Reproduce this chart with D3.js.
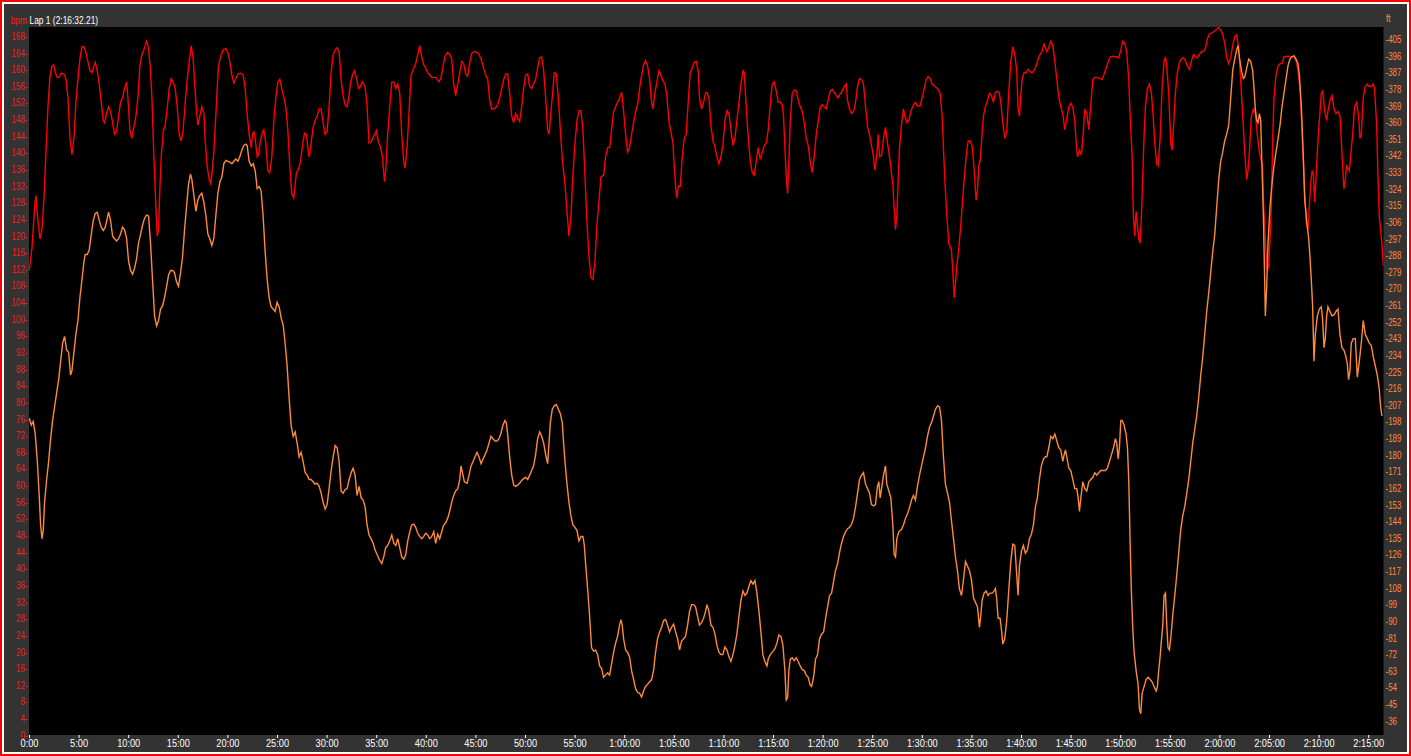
<!DOCTYPE html>
<html>
<head>
<meta charset="utf-8">
<script src="https://cdn.jsdelivr.net/npm/d3@7"></script>
<style>
  html, body { margin: 0; padding: 0; background: #ffffff; }
  svg { display: block; }
  text { font-family: "Liberation Sans", Arial, sans-serif; }
</style>
</head>
<body>
<div id="chart"></div>
<script>
// ---------------- DATA ----------------
const lapTitle = "Lap 1 (2:16:32.21)";
const lapMinutes = 136.54;

// time ticks (minutes) and their labels
const timeTicks = [0,5,10,15,20,25,30,35,40,45,50,55,60,65,70,75,80,85,90,95,100,105,110,115,120,125,130,135];
const timeLabels = ["0:00","5:00","10:00","15:00","20:00","25:00","30:00","35:00","40:00","45:00","50:00","55:00",
  "1:00:00","1:05:00","1:10:00","1:15:00","1:20:00","1:25:00","1:30:00","1:35:00","1:40:00","1:45:00","1:50:00","1:55:00",
  "2:00:00","2:05:00","2:10:00","2:15:00"];

// heart-rate ticks (bpm)
const bpmTicks = [0,4,8,12,16,20,24,28,32,36,40,44,48,52,56,60,64,68,72,76,80,84,88,92,96,100,104,108,112,116,120,124,128,132,136,140,144,148,152,156,160,164,168];
// elevation ticks (ft)
const ftTicks = [36,45,54,63,72,81,90,99,108,117,126,135,144,153,162,171,180,189,198,207,216,225,234,243,252,261,270,279,288,297,306,315,324,333,342,351,360,369,378,387,396,405];

// heart rate: [minutes, bpm]
const heartRate = [
[0.03,111.7],[0.30,117.1],[0.57,126.9],[0.70,129.7],[0.90,123.7],[1.10,119.3],[1.31,121.5],[1.51,129.1],[1.71,140.1],[1.91,151.0],[2.11,158.1],[2.31,160.8],[2.48,161.1],[2.65,159.2],[2.85,158.1],[3.05,158.1],[3.25,159.1],[3.52,158.9],[3.72,157.8],[3.93,153.2],[4.13,143.4],[4.33,139.5],[4.53,143.4],[4.73,152.1],[4.93,157.6],[5.13,162.5],[5.34,165.5],[5.54,165.4],[5.74,164.1],[5.94,161.9],[6.14,159.7],[6.34,159.2],[6.54,160.8],[6.68,161.7],[6.88,159.7],[7.08,156.5],[7.28,152.1],[7.49,147.7],[7.62,147.2],[7.82,149.4],[8.02,151.0],[8.22,149.9],[8.43,147.2],[8.63,144.4],[8.83,145.0],[9.03,148.8],[9.23,152.1],[9.43,153.2],[9.63,155.4],[9.84,157.0],[9.97,153.2],[10.17,145.5],[10.37,143.4],[10.57,146.1],[10.78,148.8],[10.98,153.2],[11.18,160.8],[11.38,163.6],[11.58,164.7],[11.85,166.8],[12.05,165.2],[12.25,159.7],[12.39,153.2],[12.59,139.0],[12.79,126.9],[12.93,119.9],[13.06,121.5],[13.19,131.3],[13.33,139.0],[13.53,145.0],[13.73,146.6],[13.93,150.5],[14.13,155.4],[14.34,157.8],[14.54,157.0],[14.74,155.4],[14.94,151.0],[15.14,144.4],[15.34,142.8],[15.54,145.5],[15.75,152.1],[15.95,157.6],[16.15,161.9],[16.35,165.7],[16.55,162.5],[16.75,154.8],[16.89,149.9],[17.02,146.6],[17.22,148.8],[17.42,151.0],[17.63,149.4],[17.76,142.8],[17.96,136.8],[18.16,133.5],[18.30,132.6],[18.43,134.6],[18.63,140.1],[18.83,148.8],[18.97,155.4],[19.10,160.8],[19.30,163.0],[19.57,164.7],[19.84,165.0],[20.04,164.1],[20.24,161.9],[20.45,158.6],[20.65,156.7],[20.85,157.8],[21.05,158.9],[21.32,159.1],[21.59,158.6],[21.79,155.4],[21.99,149.4],[22.19,144.4],[22.40,141.2],[22.53,144.4],[22.67,145.0],[22.80,143.4],[23.00,139.0],[23.13,139.5],[23.33,142.8],[23.54,145.0],[23.67,145.5],[23.87,142.3],[24.07,135.7],[24.27,135.2],[24.48,139.0],[24.68,147.7],[24.88,153.2],[25.08,157.0],[25.28,157.6],[25.48,155.4],[25.69,153.2],[25.89,151.0],[26.09,145.5],[26.29,136.8],[26.49,130.2],[26.69,129.1],[26.83,132.4],[26.96,135.2],[27.16,135.9],[27.37,137.9],[27.57,141.7],[27.77,144.7],[27.97,144.4],[28.10,141.2],[28.24,139.0],[28.44,142.3],[28.64,146.1],[28.84,147.7],[29.04,148.8],[29.24,150.5],[29.45,150.5],[29.65,147.2],[29.85,144.4],[30.05,145.0],[30.25,151.0],[30.45,159.2],[30.66,163.6],[30.86,164.7],[31.06,165.2],[31.26,164.1],[31.46,157.6],[31.66,153.7],[31.87,151.5],[32.07,151.0],[32.20,152.6],[32.40,156.5],[32.60,158.6],[32.80,159.7],[33.01,158.1],[33.21,155.4],[33.41,155.9],[33.61,157.0],[33.88,155.9],[34.08,151.0],
[34.28,142.3],[34.48,142.5],[34.75,143.9],[35.02,145.3],[35.22,142.5],[35.42,141.4],[35.63,139.0],[35.83,133.0],[35.96,135.7],[36.16,144.4],[36.36,151.0],[36.57,157.0],[36.77,157.0],[36.97,155.4],[37.17,156.5],[37.37,154.3],[37.57,144.4],[37.78,137.9],[37.91,136.3],[38.11,141.2],[38.31,149.9],[38.51,158.6],[38.78,160.3],[38.98,161.4],[39.19,163.6],[39.39,165.7],[39.59,163.0],[39.79,161.1],[39.99,160.3],[40.19,159.2],[40.60,158.1],[41.00,158.1],[41.33,157.0],[41.54,158.1],[41.74,160.8],[41.94,163.2],[42.21,164.1],[42.41,163.6],[42.61,162.5],[42.81,156.5],[43.01,153.7],[43.22,156.5],[43.42,159.2],[43.62,161.9],[43.82,161.4],[44.02,158.9],[44.22,158.4],[44.42,161.4],[44.63,163.9],[44.96,164.3],[45.30,163.9],[45.57,162.5],[45.83,160.3],[46.04,158.6],[46.24,157.6],[46.44,152.6],[46.64,150.5],[46.84,150.5],[47.04,150.8],[47.24,151.5],[47.45,153.2],[47.65,155.4],[47.85,157.6],[48.05,158.9],[48.25,158.9],[48.45,154.3],[48.66,148.8],[48.86,147.2],[49.06,149.4],[49.26,148.3],[49.46,147.5],[49.66,151.0],[49.86,155.4],[50.07,158.6],[50.27,158.9],[50.47,155.9],[50.67,155.4],[50.87,156.5],[51.07,157.6],[51.27,160.3],[51.48,162.8],[51.68,163.0],[51.88,159.7],[52.08,153.2],[52.28,145.5],[52.42,144.4],[52.62,149.9],[52.82,155.4],[52.95,159.2],[53.15,158.9],[53.36,153.2],[53.56,145.5],[53.76,138.4],[54.03,132.4],[54.23,125.9],[54.43,119.9],[54.63,124.8],[54.83,134.6],[55.04,142.3],[55.24,147.7],[55.44,150.1],[55.64,150.1],[55.84,145.5],[56.04,134.6],[56.24,123.7],[56.45,114.9],[56.65,110.0],[56.85,109.5],[57.05,113.8],[57.25,122.6],[57.45,128.1],[57.65,134.1],[57.92,134.6],[58.12,139.0],[58.33,141.2],[58.53,141.2],[58.73,145.5],[58.93,149.9],[59.13,151.0],[59.33,152.1],[59.53,153.0],[59.74,154.5],[59.94,149.9],[60.14,144.4],[60.34,140.1],[60.54,141.2],[60.74,144.4],[60.95,147.2],[61.15,149.9],[61.35,151.5],[61.55,155.4],[61.75,158.6],[61.95,161.1],[62.15,162.1],[62.36,160.8],[62.56,157.6],[62.76,152.1],[62.89,150.5],[63.09,154.3],[63.30,157.0],[63.50,159.7],[63.70,158.6],[63.90,157.3],[64.10,156.5],[64.30,153.7],[64.50,147.7],[64.71,145.0],[64.91,142.3],[65.04,136.8],[65.18,131.9],[65.31,129.1],[65.45,131.9],[65.65,131.9],[65.85,139.0],[66.05,143.4],[66.25,144.4],[66.45,152.1],[66.65,159.2],[66.86,160.3],[67.06,161.7],[67.26,161.9],[67.46,159.7],[67.59,153.2],[67.80,150.5],[68.00,152.1],[68.20,154.3],
[68.34,154.5],[68.54,153.2],[68.74,146.6],[68.95,142.8],[69.15,141.4],[69.35,139.0],[69.55,137.3],[69.75,139.0],[69.95,141.7],[70.15,147.7],[70.36,150.1],[70.56,149.4],[70.76,145.5],[70.96,141.7],[71.16,143.4],[71.36,147.7],[71.57,152.1],[71.77,156.5],[71.97,159.7],[72.10,159.2],[72.30,151.0],[72.51,143.4],[72.71,137.9],[72.91,135.2],[73.11,134.6],[73.31,137.9],[73.51,141.2],[73.71,138.4],[73.92,140.1],[74.12,141.7],[74.32,142.3],[74.52,145.5],[74.72,151.5],[74.92,156.5],[75.12,157.0],[75.33,154.8],[75.53,152.1],[75.73,152.1],[75.93,151.5],[76.06,148.8],[76.20,141.2],[76.33,134.6],[76.47,130.2],[76.60,137.9],[76.74,147.7],[76.94,154.3],[77.14,155.0],[77.34,154.8],[77.54,152.6],[77.74,151.0],[77.95,149.9],[78.15,147.2],[78.35,143.4],[78.55,141.7],[78.75,137.9],[78.95,135.2],[79.15,139.0],[79.36,144.4],[79.56,147.7],[79.76,151.0],[79.96,151.5],[80.16,151.0],[80.36,150.5],[80.56,152.6],[80.77,154.8],[80.97,155.2],[81.17,154.5],[81.37,153.7],[81.57,153.2],[81.77,154.1],[81.97,154.8],[82.18,155.9],[82.38,156.5],[82.51,152.6],[82.71,150.5],[82.92,149.4],[83.12,149.9],[83.32,152.1],[83.52,155.9],[83.72,157.8],[83.92,157.6],[84.12,156.5],[84.33,151.0],[84.53,146.1],[84.73,144.4],[84.93,141.7],[85.13,139.0],[85.27,135.7],[85.47,139.5],[85.60,144.4],[85.74,139.0],[85.94,139.5],[86.14,143.4],[86.34,146.1],[86.47,143.4],[86.68,140.1],[86.88,136.3],[87.08,132.4],[87.21,126.9],[87.35,121.5],[87.48,124.8],[87.62,133.5],[87.75,141.2],[87.95,146.6],[88.15,150.5],[88.29,148.8],[88.49,147.2],[88.69,147.7],[88.89,149.9],[89.16,151.5],[89.36,152.1],[89.56,151.2],[89.83,151.2],[90.03,153.2],[90.24,155.4],[90.44,157.6],[90.64,158.3],[90.84,157.8],[91.04,156.5],[91.31,155.9],[91.58,155.4],[91.85,154.3],[92.05,148.8],[92.18,141.2],[92.32,133.5],[92.52,124.8],[92.72,118.2],[92.99,116.6],[93.12,111.7],[93.26,105.1],[93.39,108.4],[93.53,112.8],[93.73,117.1],[93.93,122.6],[94.06,126.9],[94.27,133.5],[94.47,139.0],[94.67,142.8],[94.87,142.8],[95.07,141.7],[95.21,137.9],[95.34,133.5],[95.47,128.6],[95.61,130.8],[95.74,136.8],[95.88,137.9],[96.01,142.3],[96.21,148.8],[96.41,151.0],[96.62,152.6],[96.82,154.3],[97.02,153.7],[97.22,152.1],[97.42,154.5],[97.62,154.8],[97.82,154.3],[97.96,152.1],[98.16,147.2],[98.36,143.4],[98.56,145.0],[98.76,154.3],[98.97,161.9],[99.17,165.4],[99.37,163.6],[99.57,159.7],[99.70,151.0],[99.84,148.8],[99.97,153.2],[100.11,157.6],[100.31,159.2],[100.51,159.2],[100.71,160.0],[100.91,159.5],[101.11,159.2],[101.32,159.7],[101.52,160.8],[101.72,162.5],[101.92,163.6],[102.12,164.3],[102.32,166.1],
[102.60,164.3],[102.80,165.2],[103.00,166.8],[103.21,165.7],[103.41,161.9],[103.61,157.6],[103.81,153.2],[104.01,151.0],[104.21,149.4],[104.41,145.5],[104.62,148.3],[104.82,151.0],[105.02,151.9],[105.22,150.8],[105.42,147.7],[105.56,142.3],[105.69,139.0],[105.89,140.6],[106.09,139.5],[106.30,145.5],[106.43,150.5],[106.63,149.4],[106.83,145.5],[107.03,151.5],[107.24,157.6],[107.44,158.1],[107.71,158.1],[107.97,157.8],[108.18,157.6],[108.38,158.9],[108.58,160.3],[108.78,161.7],[108.98,163.0],[109.25,163.2],[109.59,163.0],[109.85,162.8],[110.06,164.7],[110.26,166.8],[110.46,166.3],[110.66,164.1],[110.86,157.6],[111.00,148.8],[111.20,139.0],[111.33,124.8],[111.47,119.9],[111.60,125.9],[111.74,122.6],[111.87,119.3],[112.00,118.2],[112.14,124.8],[112.27,134.6],[112.41,144.4],[112.54,151.0],[112.74,155.4],[112.94,156.5],[113.15,154.3],[113.35,147.7],[113.48,142.3],[113.68,137.3],[113.82,136.8],[114.02,143.4],[114.22,155.4],[114.42,161.9],[114.56,163.0],[114.69,160.8],[114.89,154.3],[115.09,142.3],[115.23,140.6],[115.36,145.5],[115.56,154.3],[115.76,159.2],[115.97,161.7],[116.17,162.5],[116.37,162.8],[116.57,162.1],[116.77,160.8],[116.97,160.0],[117.17,161.9],[117.38,163.6],[117.58,163.0],[117.78,162.8],[117.98,163.6],[118.18,164.3],[118.38,164.3],[118.59,165.0],[118.79,167.4],[118.99,168.5],[119.19,168.7],[119.39,169.0],[119.59,169.4],[119.79,169.8],[119.93,170.1],[120.13,169.4],[120.33,168.5],[120.53,166.3],[120.73,163.0],[120.94,161.4],[121.14,163.0],[121.34,165.7],[121.54,167.9],[121.74,168.3],[121.94,165.2],[122.14,157.6],[122.35,148.8],[122.55,140.1],[122.75,133.5],[122.88,135.7],[123.02,140.1],[123.22,148.8],[123.42,150.5],[123.62,149.4],[123.82,144.4],[124.03,140.1],[124.23,137.9],[124.36,136.8],[124.43,129.1],[124.56,122.6],[124.70,116.0],[124.83,111.7],[124.97,112.8],[125.10,119.3],[125.23,127.0],[125.37,143.4],[125.50,153.2],[125.70,158.6],[125.91,160.8],[126.11,161.4],[126.31,161.4],[126.51,163.0],[126.91,163.2],[127.25,163.0],[127.52,163.2],[127.72,162.1],[127.92,159.7],[128.12,155.4],[128.26,148.8],[128.39,141.2],[128.52,134.6],[128.66,127.0],[128.79,122.6],[128.93,121.5],[129.06,127.0],[129.20,132.4],[129.33,135.7],[129.47,134.6],[129.60,128.1],[129.73,133.5],[129.87,140.1],[130.00,145.5],[130.14,149.9],[130.27,154.3],[130.41,154.8],[130.61,149.9],[130.81,147.7],[130.94,149.9],[131.14,152.6],[131.35,153.7],[131.55,150.5],[131.75,149.4],[131.95,149.9],[132.15,148.8],[132.35,140.1],[132.55,131.3],[132.69,133.5],[132.82,136.8],[132.96,136.3],[133.09,135.7],[133.23,139.0],[133.43,144.4],[133.63,151.0],[133.83,152.1],[134.03,148.8],[134.17,143.4],[134.30,144.4],[134.50,153.2],[134.70,155.9],[134.91,156.5],[135.11,155.9],[135.31,155.9],[135.51,156.5],[135.64,155.4],[135.85,146.6],[135.98,134.6],[136.11,124.8],[136.25,121.5],[136.38,118.2],[136.52,112.8]
];

// elevation: [minutes, ft]
const elevation = [
[0.03,199.9],[0.23,196.2],[0.43,198.2],[0.63,191.3],[0.84,176.5],[1.04,156.8],[1.17,142.1],[1.31,134.7],[1.44,139.6],[1.57,154.4],[1.78,166.7],[1.98,176.5],[2.18,188.8],[2.38,198.7],[2.58,206.1],[2.78,213.4],[2.99,220.8],[3.19,230.7],[3.39,240.5],[3.59,244.2],[3.79,236.8],[3.99,235.6],[4.19,223.3],[4.33,225.7],[4.53,235.6],[4.73,245.4],[4.93,252.8],[5.13,265.1],[5.34,275.0],[5.54,284.8],[5.67,288.5],[5.87,288.5],[6.07,291.0],[6.28,299.6],[6.48,307.0],[6.68,310.7],[6.88,311.4],[7.08,307.0],[7.28,303.3],[7.49,301.6],[7.69,303.3],[7.89,308.2],[8.02,311.4],[8.22,307.0],[8.43,298.4],[8.63,297.1],[8.83,295.9],[9.03,297.1],[9.23,299.6],[9.43,303.3],[9.63,302.0],[9.84,297.1],[10.04,284.8],[10.24,279.9],[10.44,277.9],[10.64,281.1],[10.84,286.0],[11.04,294.7],[11.25,299.6],[11.45,304.5],[11.65,308.2],[11.85,309.9],[12.05,309.4],[12.25,294.7],[12.45,275.0],[12.66,255.3],[12.86,249.9],[13.06,252.8],[13.26,259.0],[13.46,260.7],[13.66,265.1],[13.87,271.3],[14.07,277.4],[14.27,279.9],[14.47,279.9],[14.67,278.7],[14.87,273.7],[15.07,271.3],[15.28,278.7],[15.48,287.3],[15.68,302.0],[15.88,314.4],[16.08,326.7],[16.28,332.1],[16.42,329.1],[16.62,320.5],[16.82,311.9],[17.02,318.0],[17.22,320.5],[17.42,321.7],[17.63,316.8],[17.83,309.4],[18.03,299.6],[18.23,297.1],[18.43,293.4],[18.63,297.1],[18.83,309.4],[19.04,321.7],[19.24,327.9],[19.44,330.3],[19.64,337.7],[19.84,339.5],[20.04,339.0],[20.24,338.5],[20.45,337.7],[20.65,339.0],[20.85,340.2],[21.05,339.0],[21.25,341.4],[21.46,345.1],[21.66,347.6],[21.86,348.3],[21.99,347.6],[22.19,339.0],[22.40,336.5],[22.60,337.7],[22.80,334.0],[23.00,324.2],[23.20,325.4],[23.40,323.0],[23.60,309.4],[23.81,289.7],[24.01,275.0],[24.21,265.1],[24.41,260.2],[24.61,259.0],[24.81,257.7],[25.01,262.7],[25.22,260.2],[25.42,254.1],[25.62,250.4],[25.82,240.5],[26.02,228.2],[26.22,211.0],[26.42,196.2],[26.63,190.1],[26.83,192.5],[27.03,186.4],[27.23,179.0],[27.43,181.5],[27.63,176.5],[27.84,170.4],[28.04,169.1],[28.24,166.7],[28.44,166.7],[28.64,165.5],[28.84,164.2],[29.04,164.7],[29.25,163.0],[29.45,159.3],[29.65,154.4],[29.85,150.7],[30.05,153.1],[30.25,161.8],[30.46,171.6],[30.66,179.0],[30.86,185.1],[31.06,183.9],[31.26,176.5],[31.46,160.5],[31.66,159.3],[31.86,161.3],[32.07,161.8],[32.27,166.7],[32.47,170.4],[32.67,172.8],[32.87,169.1],[33.07,158.1],[33.28,163.0],[33.48,156.8],[33.68,155.6],[33.88,151.9],[34.08,142.1],
[34.28,136.7],[34.48,134.7],[34.69,132.2],[34.89,128.5],[35.09,126.1],[35.29,123.6],[35.56,121.2],[35.76,124.8],[35.96,129.8],[36.16,131.0],[36.36,133.5],[36.57,136.7],[36.77,132.2],[36.97,131.0],[37.17,134.7],[37.37,129.8],[37.57,124.8],[37.78,123.6],[37.98,126.1],[38.18,133.5],[38.38,138.4],[38.58,142.1],[38.78,142.6],[38.98,140.8],[39.19,137.6],[39.39,135.9],[39.59,134.7],[39.79,135.9],[39.99,137.6],[40.19,136.7],[40.39,134.7],[40.60,135.9],[40.80,138.4],[41.00,132.2],[41.20,137.1],[41.40,134.7],[41.60,138.4],[41.80,142.1],[42.01,143.3],[42.21,145.8],[42.41,149.5],[42.61,154.4],[42.81,158.1],[43.01,160.5],[43.22,161.8],[43.42,166.7],[43.55,174.1],[43.69,170.4],[43.89,165.5],[44.16,164.7],[44.36,169.1],[44.56,174.1],[44.76,176.5],[44.96,179.0],[45.16,181.4],[45.36,179.0],[45.57,175.3],[45.77,177.8],[45.97,180.2],[46.17,182.7],[46.37,186.4],[46.57,190.1],[46.77,188.8],[46.98,187.6],[47.18,187.6],[47.38,188.8],[47.58,191.8],[47.78,196.2],[47.98,198.7],[48.12,197.4],[48.25,191.3],[48.45,179.0],[48.66,169.1],[48.86,163.7],[49.06,163.0],[49.26,163.7],[49.46,164.7],[49.66,166.2],[49.86,167.2],[50.07,167.9],[50.27,166.7],[50.47,169.1],[50.67,171.6],[50.87,174.1],[51.07,180.2],[51.27,188.8],[51.48,192.5],[51.68,190.1],[51.88,186.4],[52.08,180.2],[52.28,175.3],[52.42,186.4],[52.55,197.4],[52.75,204.8],[52.95,206.6],[53.15,207.3],[53.36,204.8],[53.56,202.4],[53.76,197.4],[53.89,186.4],[54.03,176.5],[54.23,164.2],[54.43,154.4],[54.63,147.0],[54.83,142.1],[55.04,140.8],[55.24,139.1],[55.44,133.5],[55.64,135.9],[55.84,135.9],[55.98,131.0],[56.11,121.2],[56.31,107.6],[56.51,92.8],[56.71,75.6],[56.92,73.7],[57.12,74.4],[57.32,71.9],[57.52,65.8],[57.72,64.5],[57.92,59.6],[58.12,60.8],[58.33,62.1],[58.53,60.8],[58.73,67.0],[58.93,73.1],[59.13,78.1],[59.33,81.8],[59.53,87.9],[59.67,90.9],[59.80,87.9],[59.94,80.5],[60.14,74.4],[60.34,73.1],[60.54,70.7],[60.74,63.3],[60.95,58.4],[61.15,53.5],[61.35,51.5],[61.55,51.0],[61.75,49.0],[61.95,52.2],[62.15,54.7],[62.36,55.9],[62.56,57.2],[62.76,58.4],[62.96,63.3],[63.16,73.1],[63.36,80.5],[63.57,84.2],[63.77,86.7],[63.97,90.4],[64.17,90.9],[64.37,87.9],[64.57,84.2],[64.77,86.7],[64.98,88.4],[65.18,84.2],[65.38,80.5],[65.58,74.4],[65.78,79.3],[65.98,80.5],[66.18,81.8],[66.39,87.9],[66.59,95.3],[66.79,99.0],[66.99,99.0],[67.19,97.8],[67.39,92.8],[67.59,87.9],[67.80,89.2],[68.00,91.6],[68.20,95.3],
[68.34,99.0],[68.54,95.3],[68.74,87.9],[68.95,86.7],[69.15,83.0],[69.35,76.9],[69.55,73.2],[69.75,71.9],[69.95,71.9],[70.15,76.1],[70.36,74.4],[70.56,70.7],[70.76,68.2],[70.96,71.9],[71.16,76.9],[71.36,83.0],[71.57,92.8],[71.77,101.5],[71.97,106.4],[72.17,103.9],[72.37,105.2],[72.57,108.8],[72.77,112.0],[72.98,110.1],[73.18,112.0],[73.38,105.2],[73.58,95.3],[73.78,84.2],[73.98,71.9],[74.18,68.2],[74.39,65.8],[74.52,69.5],[74.72,71.9],[74.99,73.7],[75.19,75.1],[75.39,78.1],[75.59,82.5],[75.80,81.8],[76.00,76.9],[76.20,63.3],[76.33,47.3],[76.47,48.5],[76.60,63.3],[76.74,69.5],[76.94,70.2],[77.14,68.7],[77.34,70.2],[77.54,68.2],[77.74,65.8],[77.95,63.8],[78.15,63.3],[78.35,60.8],[78.55,59.6],[78.75,55.4],[78.89,54.7],[79.09,59.6],[79.29,69.5],[79.49,71.9],[79.69,80.5],[79.89,83.0],[80.10,84.2],[80.30,91.6],[80.50,97.8],[80.70,103.9],[80.90,105.2],[81.10,111.3],[81.30,117.5],[81.51,121.2],[81.71,127.3],[81.91,132.2],[82.11,135.9],[82.31,138.4],[82.51,140.1],[82.71,140.8],[82.92,142.6],[83.12,145.8],[83.32,151.9],[83.52,159.3],[83.72,166.7],[83.92,169.1],[84.12,170.4],[84.33,164.2],[84.53,161.8],[84.73,159.3],[84.93,153.1],[85.13,152.4],[85.33,153.1],[85.53,163.0],[85.67,165.5],[85.80,156.8],[85.94,161.8],[86.14,169.1],[86.34,174.1],[86.47,164.2],[86.68,160.5],[86.88,156.8],[87.08,142.1],[87.21,126.1],[87.35,124.8],[87.48,134.7],[87.68,138.4],[87.95,139.6],[88.15,142.1],[88.36,145.8],[88.56,148.2],[88.76,151.4],[88.96,155.6],[89.16,158.1],[89.36,155.6],[89.56,163.0],[89.77,169.1],[89.97,174.1],[90.17,179.0],[90.37,183.9],[90.57,190.1],[90.77,195.0],[90.97,197.4],[91.18,201.1],[91.38,204.8],[91.58,206.6],[91.78,206.1],[91.98,198.7],[92.18,179.0],[92.38,164.2],[92.59,159.3],[92.79,154.4],[92.99,144.5],[93.19,134.7],[93.39,124.8],[93.59,117.5],[93.79,107.6],[94.00,103.9],[94.20,112.5],[94.40,122.4],[94.60,119.9],[94.80,117.5],[95.00,112.5],[95.21,102.7],[95.41,100.2],[95.61,97.8],[95.81,86.7],[95.94,92.8],[96.08,101.5],[96.28,105.2],[96.48,106.4],[96.68,103.9],[96.88,105.2],[97.09,105.2],[97.29,106.4],[97.42,107.6],[97.56,101.5],[97.69,91.6],[97.89,91.6],[98.03,85.5],[98.16,77.6],[98.36,80.5],[98.56,90.4],[98.76,106.4],[98.97,122.4],[99.17,131.7],[99.37,131.0],[99.57,115.0],[99.70,103.9],[99.84,119.9],[100.04,127.8],[100.24,131.0],[100.44,126.8],[100.64,128.5],[100.85,134.7],[101.05,137.1],[101.25,142.1],[101.45,151.9],[101.65,156.8],[101.85,166.7],[102.05,174.1],[102.26,177.8],[102.46,179.0],
[102.60,179.0],[102.80,183.9],[103.00,190.1],[103.21,188.8],[103.41,191.3],[103.61,187.6],[103.81,183.9],[104.01,182.7],[104.21,176.5],[104.35,180.2],[104.48,182.7],[104.62,179.0],[104.82,172.8],[105.02,171.6],[105.22,166.7],[105.42,161.8],[105.62,161.8],[105.76,156.8],[105.89,149.5],[106.03,156.8],[106.23,165.5],[106.43,161.8],[106.63,160.5],[106.83,165.5],[107.03,166.7],[107.24,167.9],[107.44,170.4],[107.64,169.1],[107.84,170.4],[108.04,171.6],[108.31,171.6],[108.51,171.6],[108.71,172.8],[108.91,176.5],[109.12,180.2],[109.32,183.9],[109.52,188.8],[109.65,186.4],[109.79,177.8],[109.92,183.9],[110.06,198.7],[110.19,198.7],[110.39,196.2],[110.59,191.3],[110.73,183.9],[110.86,166.7],[111.00,132.2],[111.13,105.2],[111.27,85.5],[111.40,73.2],[111.60,63.3],[111.80,55.9],[111.94,42.4],[112.07,39.9],[112.21,51.0],[112.41,54.7],[112.61,58.4],[112.81,59.6],[113.01,58.4],[113.21,57.2],[113.41,54.7],[113.62,52.2],[113.75,54.7],[113.88,63.3],[114.02,70.7],[114.15,79.3],[114.29,87.9],[114.42,103.9],[114.56,105.2],[114.69,87.9],[114.82,75.6],[114.96,74.4],[115.09,80.5],[115.29,92.8],[115.50,103.9],[115.70,115.0],[115.90,127.3],[116.10,139.6],[116.30,147.0],[116.50,151.9],[116.71,159.3],[116.91,166.7],[117.11,176.5],[117.31,186.4],[117.51,193.8],[117.71,201.1],[117.91,211.0],[118.12,223.3],[118.32,233.1],[118.52,245.4],[118.72,257.7],[118.92,267.6],[119.12,278.7],[119.32,289.7],[119.53,299.6],[119.73,314.4],[119.93,329.1],[120.13,339.0],[120.33,343.9],[120.53,350.0],[120.73,353.7],[120.94,358.7],[121.14,373.4],[121.34,388.2],[121.54,394.3],[121.74,399.3],[121.88,401.7],[122.01,395.6],[122.21,388.2],[122.41,383.8],[122.55,384.5],[122.75,389.4],[122.95,394.3],[123.15,393.1],[123.35,388.2],[123.49,378.3],[123.62,367.3],[123.76,361.1],[123.89,359.9],[124.03,364.8],[124.16,361.1],[124.29,336.5],[124.43,309.4],[124.56,275.0],[124.63,255.3],[124.76,270.0],[124.90,294.7],[125.10,314.4],[125.30,326.7],[125.50,336.5],[125.70,343.9],[125.91,351.3],[126.11,358.7],[126.31,368.5],[126.51,375.9],[126.71,383.3],[126.91,390.6],[127.11,394.3],[127.32,395.6],[127.52,396.1],[127.72,394.3],[127.92,391.9],[128.06,385.7],[128.26,368.5],[128.46,341.4],[128.59,319.3],[128.79,307.0],[129.00,297.1],[129.13,287.3],[129.26,275.0],[129.40,260.2],[129.53,230.7],[129.67,245.4],[129.87,255.3],[130.07,259.0],[130.27,260.2],[130.41,252.8],[130.54,238.1],[130.67,243.0],[130.81,255.3],[130.94,260.2],[131.14,257.7],[131.35,255.3],[131.55,255.8],[131.75,257.7],[131.95,259.0],[132.15,245.4],[132.35,238.1],[132.55,236.8],[132.76,233.1],[132.89,229.4],[133.02,220.8],[133.16,225.7],[133.29,240.5],[133.49,243.0],[133.70,243.0],[133.90,222.1],[134.10,230.7],[134.30,240.5],[134.50,252.8],[134.70,245.4],[134.91,243.0],[135.11,240.5],[135.31,239.3],[135.51,233.1],[135.71,228.2],[135.91,223.3],[136.11,215.9],[136.25,206.1],[136.38,201.1]
];

// ---------------- DRAW ----------------
const W = 1411, H = 756;
const plot = { left: 29, right: 1383.5, top: 27, bottom: 735 };
const colors = { hr: "#ff0000", elev: "#ff8a3a", hrText: "#ff1a1a", elevText: "#ff8a3a", panel: "#333333" };
const narrow = 0.8;     // horizontal squeeze to mimic the narrow bitmap font
const narrowX = 0.88;   // time labels are a bit wider

const svg = d3.select("#chart").append("svg").attr("width", W).attr("height", H);

// frame
svg.append("rect").attr("width", W).attr("height", H).attr("fill", "#ff0000");
svg.append("rect").attr("x", 2).attr("y", 2).attr("width", W - 4).attr("height", H - 4).attr("fill", "#ffffff");
svg.append("rect").attr("x", 4).attr("y", 4).attr("width", W - 8).attr("height", H - 8).attr("fill", colors.panel);

// plot background
svg.append("rect").attr("x", plot.left).attr("y", plot.top)
  .attr("width", plot.right - plot.left).attr("height", plot.bottom - plot.top).attr("fill", "#000000");

const x = d3.scaleLinear().domain([0, lapMinutes]).range([plot.left, plot.right]);
const yHR = d3.scaleLinear().domain([0, 170.2]).range([plot.bottom, plot.top]);
const yFt = d3.scaleLinear().domain([28.4, 411.7]).range([plot.bottom, plot.top]);

// left axis
const gl = svg.append("g").attr("transform", `translate(${plot.left - 1.5},0)`)
  .call(d3.axisLeft(yHR).tickValues(bpmTicks).tickSize(0).tickPadding(0).tickFormat(d => d + "-"));
gl.select(".domain").remove();
gl.selectAll("text").attr("fill", colors.hrText).style("font-size", "10px")
  .attr("transform", `scale(${narrow},1)`);

// right axis
const gr = svg.append("g").attr("transform", `translate(${plot.right + 2},0)`)
  .call(d3.axisRight(yFt).tickValues(ftTicks).tickSize(0).tickPadding(0).tickFormat(d => "-" + d));
gr.select(".domain").remove();
gr.selectAll("text").attr("fill", colors.elevText).style("font-size", "10px")
  .attr("transform", `scale(${narrow},1)`);

// bottom axis
const gb = svg.append("g").attr("transform", `translate(0,${plot.bottom})`)
  .call(d3.axisBottom(x).tickValues(timeTicks).tickSize(3).tickPadding(2)
    .tickFormat((d, i) => timeLabels[i]));
gb.select(".domain").remove();
gb.selectAll("line").attr("stroke", "#ffffff");
gb.selectAll("text").attr("fill", "#ffffff").style("font-size", "10.5px")
  .attr("transform", `scale(${narrowX},1)`);

// header texts
svg.append("text").attr("transform", `translate(${plot.left - 2},23.5) scale(${narrow},1)`)
  .attr("text-anchor", "end").attr("fill", colors.hrText).style("font-size", "10.5px").text("bpm");
svg.append("text").attr("transform", `translate(${plot.left + 0.5},23.5) scale(${narrow},1)`)
  .attr("fill", "#ffffff").style("font-size", "10.5px").text(lapTitle);
svg.append("text").attr("transform", `translate(${plot.right + 2.5},22) scale(${narrow},1)`)
  .attr("fill", colors.elevText).style("font-size", "10.5px").text("ft");

// lines
svg.append("clipPath").attr("id", "clip").append("rect")
  .attr("x", plot.left).attr("y", plot.top).attr("width", plot.right - plot.left).attr("height", plot.bottom - plot.top);

svg.append("path").datum(heartRate)
  .attr("clip-path", "url(#clip)")
  .attr("fill", "none").attr("stroke", colors.hr).attr("stroke-width", 1.4)
  .attr("d", d3.line().x(d => x(d[0])).y(d => yHR(d[1])));

svg.append("path").datum(elevation)
  .attr("clip-path", "url(#clip)")
  .attr("fill", "none").attr("stroke", colors.elev).attr("stroke-width", 1.4)
  .attr("d", d3.line().x(d => x(d[0])).y(d => yFt(d[1])));
</script>
</body>
</html>
